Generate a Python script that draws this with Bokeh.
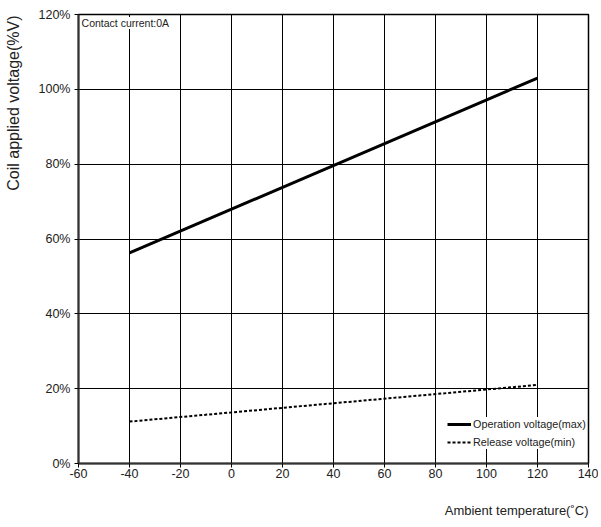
import math
from bokeh.plotting import figure
from bokeh.models import FixedTicker, Label, Legend, LegendItem
from bokeh.embed import file_html
from bokeh.resources import INLINE

temp = [-40, 120]
operation_max = [56.3, 103.0]
release_min = [11.2, 21.0]
x_ticks = [-60, -40, -20, 0, 20, 40, 60, 80, 100, 120, 140]
y_ticks = [0, 20, 40, 60, 80, 100, 120]
x_labels = {v: str(v) for v in x_ticks}
y_labels = {v: f"{v}%" for v in y_ticks}

FONT = "Liberation Sans"

p = figure(width=598, height=524, output_backend="svg", toolbar_location=None,
           x_range=(-60, 140), y_range=(0, 120),
           min_border_left=78, min_border_right=10, min_border_top=14, min_border_bottom=61)
p.outline_line_color = "black"
p.outline_line_width = 1.5
p.background_fill_color = "white"

for ax in (p.xaxis[0], p.yaxis[0]):
    ax.axis_line_color = "#333333"
    ax.axis_line_width = 2
    ax.major_tick_line_color = "black"
    ax.major_tick_in = 0
    ax.major_tick_out = 4
    ax.minor_tick_line_color = None
    ax.major_label_text_font = FONT
    ax.major_label_text_font_size = "12.5px"
    ax.major_label_text_color = "#222222"

p.xaxis.ticker = FixedTicker(ticks=x_ticks)
p.yaxis.ticker = FixedTicker(ticks=y_ticks)
p.xaxis.major_label_overrides = x_labels
p.yaxis.major_label_overrides = y_labels
p.xaxis.major_label_standoff = 1
p.yaxis.major_label_standoff = 4

p.xgrid.ticker = FixedTicker(ticks=x_ticks)
p.ygrid.ticker = FixedTicker(ticks=y_ticks)
p.grid.grid_line_color = "black"
p.grid.grid_line_width = 1
p.grid.grid_line_alpha = 1.0

r1 = p.line(temp, operation_max, line_color="black", line_width=3)
r2 = p.line(temp, release_min, line_color="black", line_width=2, line_dash="3 2")

legend = Legend(items=[LegendItem(label="Operation voltage(max)", renderers=[r1]),
                       LegendItem(label="Release voltage(min)", renderers=[r2])],
                location=(369, 14))
legend.label_text_font = FONT
legend.label_text_font_size = "10.8px"
legend.label_text_color = "#222222"
legend.glyph_width = 24
legend.glyph_height = 14
legend.label_height = 14
legend.label_standoff = 2
legend.spacing = 4
legend.padding = 1
legend.margin = 0
legend.border_line_color = None
legend.background_fill_color = "white"
legend.background_fill_alpha = 1.0
p.add_layout(legend)

p.add_layout(Label(x=-58.8, y=117.7, text="Contact current:0A", text_font=FONT,
                   text_font_size="10.5px", text_baseline="middle", text_color="#222222",
                   background_fill_color="white"))

# axis titles in the side panels
p.add_layout(Label(x=-5, y=448, x_units="screen", y_units="screen",
                   text="Coil applied voltage(%V)", angle=math.pi / 2,
                   text_align="right", text_baseline="middle", text_font=FONT,
                   text_font_size="16px", text_color="#222222"), "left")
p.add_layout(Label(x=510, y=-15, x_units="screen", y_units="screen",
                   text="Ambient temperature(\u02daC)", text_align="right",
                   text_baseline="middle", text_font=FONT,
                   text_font_size="13px", text_color="#222222"), "below")

open("out.html", "w").write(file_html(p, INLINE))
